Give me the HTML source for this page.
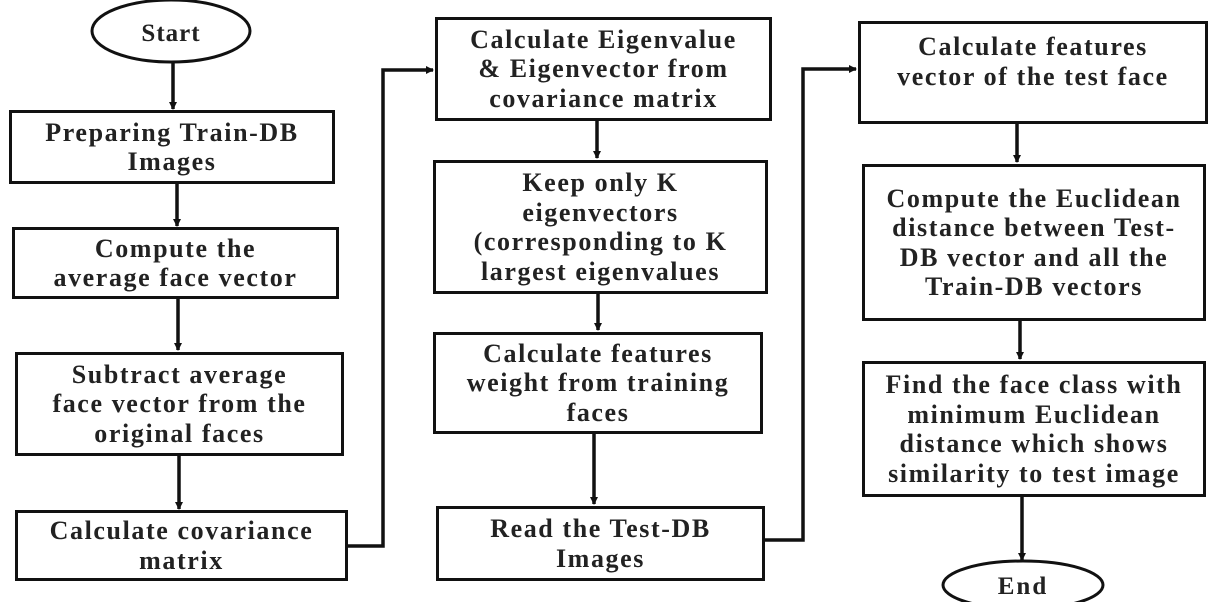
<!DOCTYPE html>
<html><head><meta charset="utf-8"><style>
html,body{margin:0;padding:0;background:#fff;}
#c{position:relative;width:1211px;height:602px;overflow:hidden;background:#fff;}
.b{position:absolute;box-sizing:border-box;border:3px solid #111;display:flex;flex-direction:column;justify-content:center;align-items:center;text-align:center;font-family:"Liberation Serif",serif;font-weight:bold;font-size:26px;line-height:29.5px;color:#222;letter-spacing:1.6px;white-space:nowrap;background:#fff;}
svg{position:absolute;left:0;top:0;}
</style></head><body><div id="c">
<svg width="1211" height="602">
<defs><marker id="a" markerWidth="8" markerHeight="8" refX="7" refY="4" orient="auto" markerUnits="userSpaceOnUse"><path d="M0,0 L8,4 L0,8 z" fill="#111"/></marker></defs>
<g stroke="#111" stroke-width="3.5" fill="none">
<line x1="173" y1="62" x2="173" y2="109" marker-end="url(#a)"/>
<line x1="177" y1="183" x2="177" y2="226" marker-end="url(#a)"/>
<line x1="178" y1="298" x2="178" y2="350" marker-end="url(#a)"/>
<line x1="179" y1="455" x2="179" y2="509" marker-end="url(#a)"/>
<polyline points="347,546 383,546 383,70 433,70" marker-end="url(#a)"/>
<line x1="597" y1="120" x2="597" y2="158" marker-end="url(#a)"/>
<line x1="598" y1="293" x2="598" y2="330" marker-end="url(#a)"/>
<line x1="594" y1="433" x2="594" y2="504" marker-end="url(#a)"/>
<polyline points="764,540 803,540 803,69 856,69" marker-end="url(#a)"/>
<line x1="1017" y1="123" x2="1017" y2="162" marker-end="url(#a)"/>
<line x1="1020" y1="320" x2="1020" y2="359" marker-end="url(#a)"/>
<line x1="1022" y1="496" x2="1022" y2="560" marker-end="url(#a)"/>
</g>
<ellipse cx="171" cy="31" rx="79" ry="31" fill="#fff" stroke="#111" stroke-width="3"/>
<text x="171" y="41" text-anchor="middle" font-family="Liberation Serif,serif" font-weight="bold" font-size="25" letter-spacing="1" fill="#222">Start</text>
<ellipse cx="1023" cy="585" rx="80" ry="24" fill="#fff" stroke="#111" stroke-width="3"/>
<text x="1023" y="594" text-anchor="middle" font-family="Liberation Serif,serif" font-weight="bold" font-size="25" letter-spacing="2" fill="#222">End</text>
</svg>
<div class="b" style="left:9px;top:110px;width:326px;height:74px">Preparing Train-DB<br>Images</div>
<div class="b" style="left:12px;top:227px;width:327px;height:72px">Compute the<br>average face vector</div>
<div class="b" style="left:15px;top:352px;width:329px;height:104px">Subtract average<br>face vector from the<br>original faces</div>
<div class="b" style="left:15px;top:510px;width:333px;height:71px">Calculate covariance<br>matrix</div>
<div class="b" style="left:435px;top:17px;width:337px;height:104px">Calculate Eigenvalue<br>&amp; Eigenvector from<br>covariance matrix</div>
<div class="b" style="left:433px;top:160px;width:335px;height:134px">Keep only K<br>eigenvectors<br>(corresponding to K<br>largest eigenvalues</div>
<div class="b" style="left:433px;top:332px;width:330px;height:102px">Calculate features<br>weight from training<br>faces</div>
<div class="b" style="left:436px;top:506px;width:329px;height:75px">Read the Test-DB<br>Images</div>
<div class="b" style="left:858px;top:21px;width:350px;height:103px;justify-content:flex-start;padding-top:8px">Calculate features<br>vector of the test face</div>
<div class="b" style="left:862px;top:164px;width:344px;height:157px">Compute the Euclidean<br>distance between Test-<br>DB vector and all the<br>Train-DB vectors</div>
<div class="b" style="left:862px;top:361px;width:344px;height:136px">Find the face class with<br>minimum Euclidean<br>distance which shows<br>similarity to test image</div>
</div></body></html>
